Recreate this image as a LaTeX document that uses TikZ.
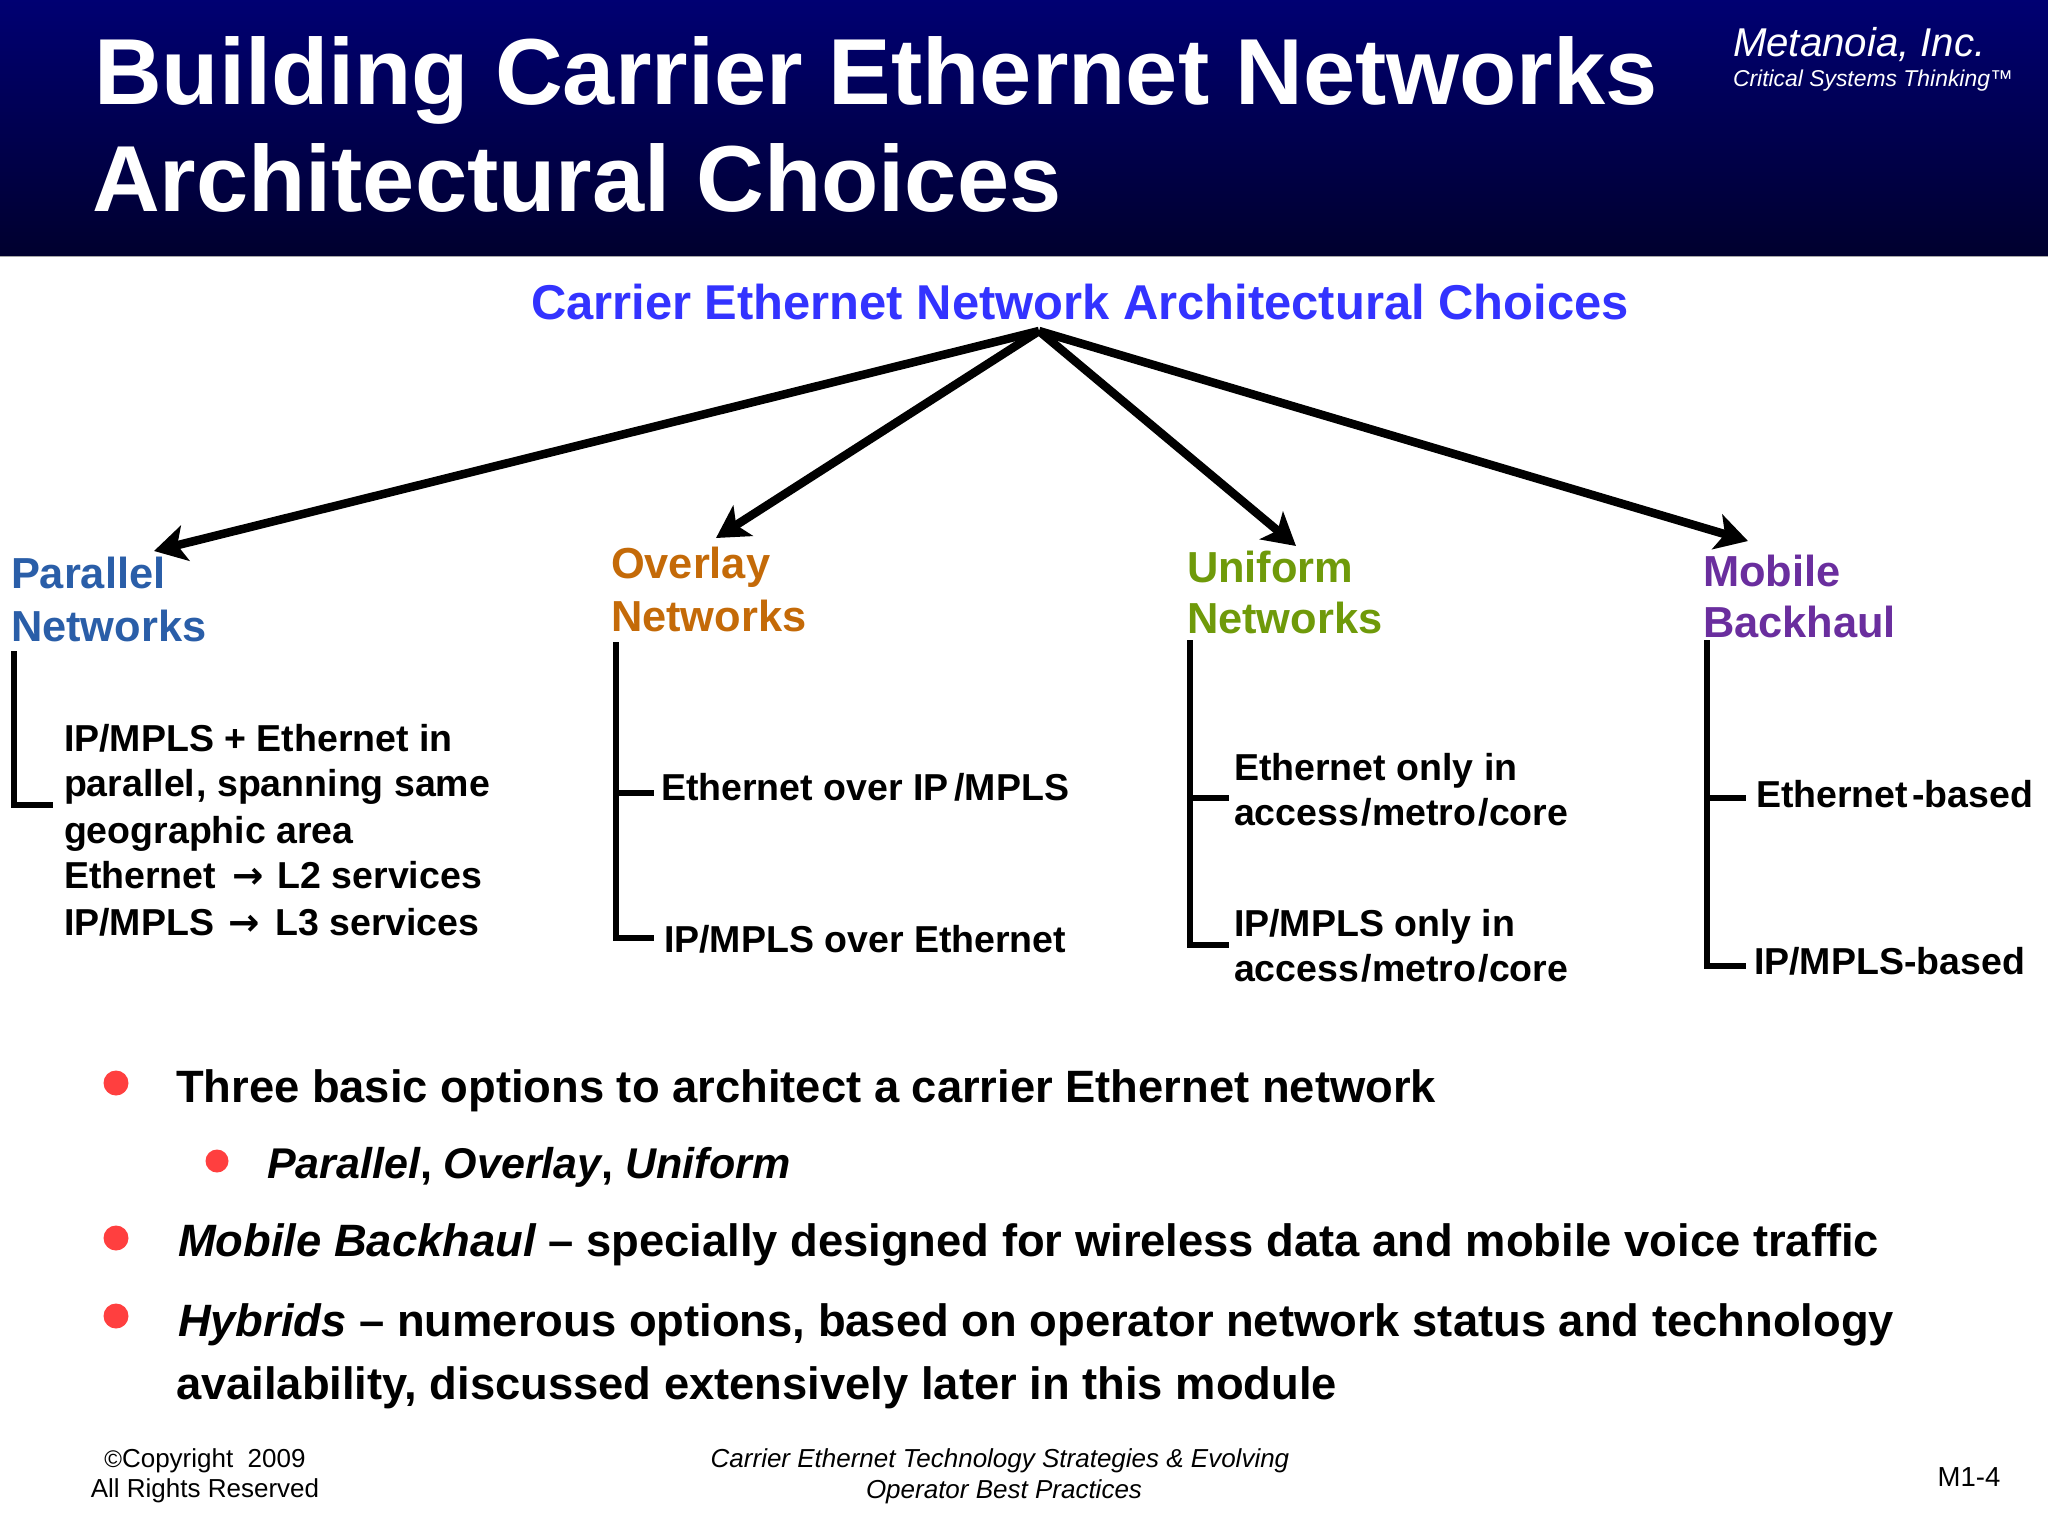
\documentclass[tikz,border=0pt]{standalone}
\usepackage{fontspec}
\setmainfont{Liberation Sans}
\newfontfamily\arrowfont{DejaVu Sans}
\usetikzlibrary{arrows.meta}
\definecolor{hdrtop}{HTML}{000072}
\definecolor{hdrbot}{HTML}{00002E}
\definecolor{headblue}{HTML}{3333FF}
\definecolor{parblue}{HTML}{2A5EA8}
\definecolor{ovorange}{HTML}{C46A08}
\definecolor{unigreen}{HTML}{6F9A0A}
\definecolor{mobpurple}{HTML}{6A2E9E}
\definecolor{bulred}{HTML}{FF3F3F}
\newcommand{\bigarrow}{{\arrowfont\bfseries →}}
\newcommand{\gapslash}{\kern2.5pt/}
\tikzset{
  lbl/.style={inner sep=0pt,outer sep=0pt,anchor=base west,align=left},
  titletxt/.style={lbl,text=white,font=\bfseries\fontsize{93.8}{106}\selectfont},
  subhead/.style={lbl,font=\bfseries\fontsize{43.4}{52}\selectfont},
  item/.style={lbl,font=\bfseries\fontsize{37.5}{45.5}\selectfont},
  bultxt/.style={lbl,font=\bfseries\fontsize{45.35}{62}\selectfont},
  foot/.style={inner sep=0pt,outer sep=0pt,anchor=base,align=center,font=\fontsize{26}{31}\selectfont},
  fan/.style={line width=8.5pt,draw=black,-{Stealth[length=32pt,width=36pt,inset=8pt]},shorten <=0pt},
  spine/.style={line width=5.5pt,draw=black,line cap=butt},
  bul/.style={circle,fill=bulred,inner sep=0pt,outer sep=0pt,minimum size=25pt}
}
\begin{document}
\begin{tikzpicture}[x=1pt,y=-1pt]
\useasboundingbox (0,0) rectangle (2048,1536);
\fill[white] (0,0) rectangle (2048,1536);
\shade[top color=hdrtop,bottom color=hdrbot] (0,0) rectangle (2048,256);
\draw[line width=1.5pt,draw=gray!70] (0,256.5) -- (2048,256.5);

\node[titletxt] (t1) at (94,105) {Building Carrier Ethernet Networks};
\node[titletxt] (t2) at (92,211) {Architectural Choices};
\node[lbl,text=white,font=\itshape\fontsize{40.2}{44}\selectfont] (m1) at (1733,57) {Metanoia, Inc.};
\node[lbl,text=white,font=\itshape\fontsize{22.9}{28}\selectfont] (m2) at (1733,87) {Critical Systems Thinking™};

\node[lbl,text=headblue,font=\bfseries\fontsize{48.9}{56}\selectfont] (root) at (531,319) {Carrier Ethernet Network Architectural Choices};

\node[subhead,text=parblue] (par) at (11,588) {Parallel};
\node[subhead,text=parblue] (par2) at (11,641) {Networks};
\node[subhead,text=ovorange] (ov) at (611,578) {Overlay};
\node[subhead,text=ovorange] (ov2) at (611,631) {Networks};
\node[subhead,text=unigreen] (un) at (1187,582) {Uniform};
\node[subhead,text=unigreen] (un2) at (1187,633) {Networks};
\node[subhead,text=mobpurple] (mo) at (1703,586) {Mobile};
\node[subhead,text=mobpurple] (mo2) at (1703,637) {Backhaul};

\coordinate (apex) at (1039,331);
\coordinate (aPar) at (154,551);
\coordinate (aOv) at (716,538);
\coordinate (aUn) at (1296,546);
\coordinate (aMo) at (1748,541);
\draw[fan] (apex) -- (aPar);
\draw[fan] (apex) -- (aOv);
\draw[fan] (apex) -- (aUn);
\draw[fan] (apex) -- (aMo);

% Parallel
\coordinate (pTop) at (14,651);
\coordinate (pBot) at (14,805);
\coordinate (pEnd) at (53,805);
\draw[spine] (pTop) -- (pBot) -- (pEnd);
\node[item] (p1) at (64,751) {IP/MPLS + Ethernet in};
\node[item] (p2) at (64,796) {parallel\kern1pt, spanning same};
\node[item] (p3) at (64,843) {geographic area};
\node[item] (p4) at (64,888) {Ethernet \,\bigarrow\kern3pt\ L2 services};
\node[item] (p5) at (64,935) {IP/MPLS\kern4pt\ \bigarrow\kern5pt\ L3 services};

% Overlay
\coordinate (oTop) at (616,642);
\coordinate (oMid) at (616,793);
\coordinate (oBot) at (616,938);
\coordinate (oE1) at (654,793);
\coordinate (oE2) at (654,938);
\draw[spine] (oTop) -- (oBot) -- (oE2);
\draw[spine] (oMid) -- (oE1);
\node[item] (o1) at (661,800) {Ethernet over IP\kern6pt/MPLS};
\node[item] (o2) at (664,952) {IP/MPLS over Ethernet};

% Uniform
\coordinate (uTop) at (1190,640);
\coordinate (uMid) at (1190,798);
\coordinate (uBot) at (1190,945);
\coordinate (uE1) at (1229,798);
\coordinate (uE2) at (1229,945);
\draw[spine] (uTop) -- (uBot) -- (uE2);
\draw[spine] (uMid) -- (uE1);
\node[item] (u1) at (1234,780) {Ethernet only in};
\node[item] (u2) at (1234,825) {access\gapslash metro\gapslash core};
\node[item] (u3) at (1234,936) {IP/MPLS only in};
\node[item] (u4) at (1234,981) {access\gapslash metro\gapslash core};

% Mobile
\coordinate (mTop) at (1707,640);
\coordinate (mMid) at (1707,798);
\coordinate (mBot) at (1707,966);
\coordinate (mE1) at (1746,798);
\coordinate (mE2) at (1746,966);
\draw[spine] (mTop) -- (mBot) -- (mE2);
\draw[spine] (mMid) -- (mE1);
\node[item] (m3) at (1756,807) {Ethernet\kern4pt-based};
\node[item] (m4) at (1754,974) {IP/MPLS-based};

% Bullets
\node[bul] (b1) at (116,1083) {};
\node[bul,minimum size=23pt] (b2) at (217,1161) {};
\node[bul] (b3) at (116,1238) {};
\node[bul] (b4) at (116,1316) {};
\node[bultxt] (s1) at (176,1102) {Three basic options to architect a carrier Ethernet network};
\node[bultxt,font=\bfseries\fontsize{43}{62}\selectfont] (s2) at (267,1178) {\itshape Parallel\upshape, \itshape Overlay\upshape, \itshape Uniform};
\node[bultxt] (s3) at (178,1256) {\itshape Mobile Backhaul\upshape{} – specially designed for wireless data and mobile voice traffic};
\node[bultxt] (s4) at (178,1336) {\itshape Hybrids\upshape{} – numerous options, based on operator network status and technology};
\node[bultxt] (s5) at (176,1399) {availability, discussed extensively later in this module};

% Footer
\node[foot] (f1) at (205,1467) {{\fontsize{24}{26}\selectfont ©}Copyright\ \ 2009};
\node[foot] (f2) at (205,1497) {All Rights Reserved};
\node[foot,font=\itshape\fontsize{26}{31}\selectfont] (f3) at (1000,1467) {Carrier Ethernet Technology Strategies \& Evolving};
\node[foot,font=\itshape\fontsize{26}{31}\selectfont] (f4) at (1004,1498) {Operator Best Practices};
\node[foot,font=\fontsize{27.5}{31}\selectfont] (f5) at (1969,1486) {M1-4};
\end{tikzpicture}
\end{document}
